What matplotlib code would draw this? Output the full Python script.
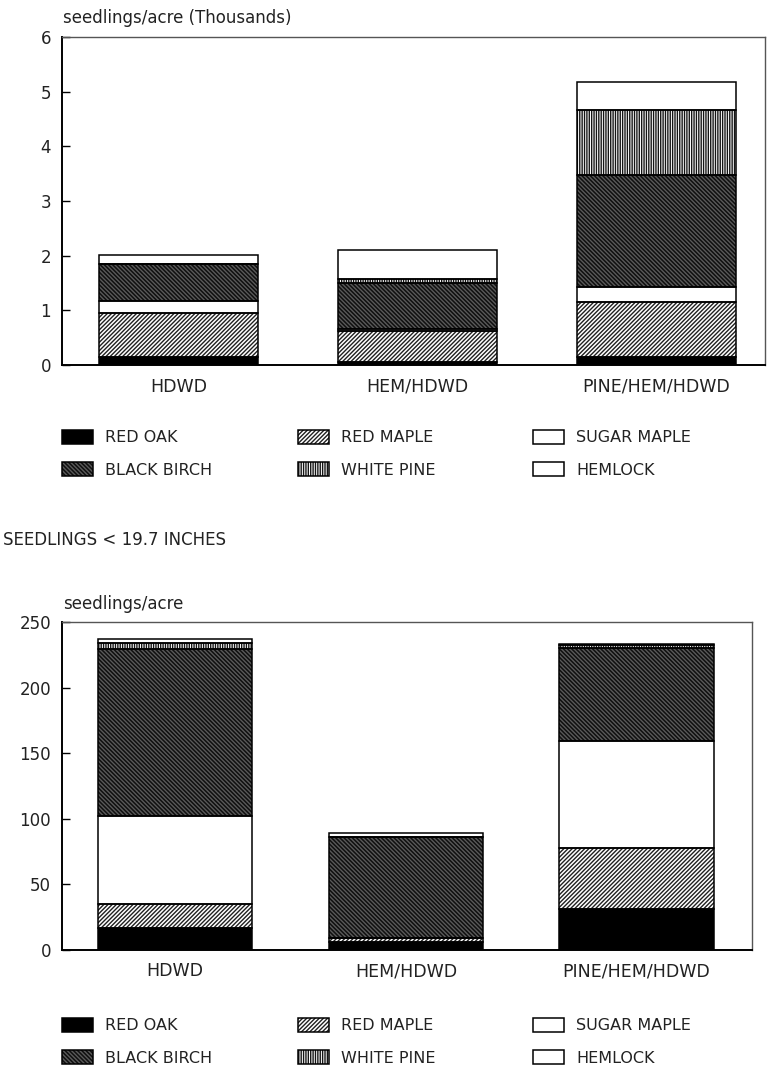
import matplotlib
matplotlib.use("Agg")
import matplotlib.pyplot as plt
import numpy as np

# ---------------- data ----------------
categories = ['HDWD', 'HEM/HDWD', 'PINE/HEM/HDWD']
species = ['RED OAK', 'RED MAPLE', 'SUGAR MAPLE', 'BLACK BIRCH', 'WHITE PINE', 'HEMLOCK']

# all seedlings (thousands per acre)
red_oak_all = [0.15, 0.06, 0.15]
red_maple_all = [0.80, 0.56, 1.01]
sugar_maple_all = [0.22, 0.03, 0.27]
black_birch_all = [0.67, 0.85, 2.04]
white_pine_all = [0.01, 0.07, 1.19]
hemlock_all = [0.16, 0.54, 0.51]

# seedlings < 19.7 inches (per acre)
red_oak_small = [16.5, 6.3, 31.0]
red_maple_small = [18.3, 2.6, 46.5]
sugar_maple_small = [67.3, 0.0, 82.0]
black_birch_small = [127.1, 77.0, 70.4]
white_pine_small = [5.0, 0.0, 2.6]
hemlock_small = [2.6, 3.0, 0.6]

top_ticks = [0, 1, 2, 3, 4, 5, 6]
bottom_ticks = [0, 50, 100, 150, 200, 250]

# ---------------- styles ----------------
plt.rcParams['font.family'] = ['DejaVu Sans']
plt.rcParams['hatch.linewidth'] = 1.0
TXT = '#222222'
styles = {
    'RED OAK': dict(facecolor='black', hatch=None, hc='black'),
    'RED MAPLE': dict(facecolor='white', hatch='////////', hc='#202020'),
    'SUGAR MAPLE': dict(facecolor='white', hatch=None, hc='black'),
    'BLACK BIRCH': dict(facecolor='#101010', hatch='\\\\\\\\\\\\\\\\', hc='#5a5a5a'),
    'WHITE PINE': dict(facecolor='white', hatch='|||||||', hc='#151515'),
    'HEMLOCK': dict(facecolor='white', hatch=None, hc='black'),
}

fig = plt.figure(figsize=(7.72, 10.73), dpi=100)

def draw(ax, series, width, xlim, ylim, ticks):
    x = np.arange(len(categories))
    bottom = np.zeros(len(categories))
    handles = []
    for name, vals in zip(species, series):
        st = styles[name]
        vals = np.array(vals, dtype=float)
        fill = ax.bar(x, vals, width, bottom=bottom, color=st['facecolor'],
                      edgecolor=st['hc'], hatch=st['hatch'], linewidth=0, zorder=2)
        outl = ax.bar(x, vals, width, bottom=bottom, fill=False,
                      edgecolor='black', linewidth=1.1, zorder=3)
        handles.append((fill, outl))
        bottom += vals
    ax.set_xlim(*xlim)
    ax.set_ylim(*ylim)
    ax.set_yticks(ticks)
    ax.set_xticks(x)
    ax.set_xticklabels(categories, fontsize=12.5, color=TXT)
    ax.tick_params(axis='x', length=0, pad=9)
    ax.tick_params(axis='y', direction='in', length=6, width=1, pad=8,
                   labelsize=12, labelcolor=TXT)
    for s in ['left', 'bottom']:
        ax.spines[s].set_linewidth(1.4)
        ax.spines[s].set_color('black')
    for s in ['top', 'right']:
        ax.spines[s].set_linewidth(1.0)
        ax.spines[s].set_color('#555555')
    return handles

def legend(handles, top_frac):
    col_x = [62, 298, 533]
    order = [(0, 3), (1, 4), (2, 5)]
    for cx, (a, b) in zip(col_x, order):
        fig.legend([handles[a], handles[b]], [species[a], species[b]],
                   loc='upper left', bbox_to_anchor=(cx / 772, top_frac),
                   frameon=False, fontsize=11.5, borderpad=0, borderaxespad=0,
                   handlelength=1.95, handleheight=0.95, handletextpad=0.75,
                   labelspacing=1.05, labelcolor=TXT)

ax1 = fig.add_axes([62 / 772, 1 - 365 / 1073, (765 - 62) / 772, (365 - 37) / 1073])
h1 = draw(ax1, [red_oak_all, red_maple_all, sugar_maple_all, black_birch_all,
                white_pine_all, hemlock_all], 0.665, (-0.487, 2.454), (0, 6), top_ticks)
legend(h1, 1 - 430 / 1073)

ax2 = fig.add_axes([62 / 772, 1 - 950 / 1073, (752 - 62) / 772, (950 - 622) / 1073])
h2 = draw(ax2, [red_oak_small, red_maple_small, sugar_maple_small, black_birch_small,
                white_pine_small, hemlock_small], 0.67, (-0.49, 2.50), (0, 250), bottom_ticks)
legend(h2, 1 - 1018 / 1073)

fig.text(63 / 772, 1 - 18 / 1073, 'seedlings/acre (Thousands)', fontsize=12,
         color=TXT, va='center', ha='left')
fig.text(3 / 772, 1 - 540 / 1073, 'SEEDLINGS < 19.7 INCHES', fontsize=12,
         color=TXT, va='center', ha='left')
fig.text(63 / 772, 1 - 604 / 1073, 'seedlings/acre', fontsize=12,
         color=TXT, va='center', ha='left')

fig.savefig('out.png', dpi=100, facecolor='white')
